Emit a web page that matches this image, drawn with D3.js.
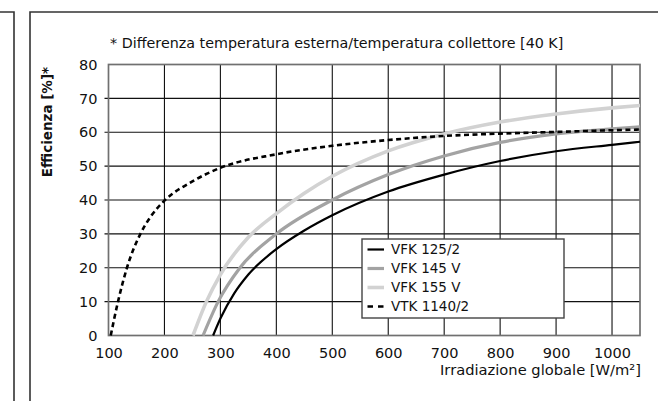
<!DOCTYPE html>
<html>
<head>
<meta charset="utf-8">
<script src="https://cdn.jsdelivr.net/npm/d3@7"></script>
<style>
	html, body { margin: 0; padding: 0; background: #fff; }
	svg { display: block; }
	text { font-family: 'DejaVu Sans', sans-serif; fill: #111; }
</style>
</head>
<body>
<svg id="chart" width="658" height="401"></svg>
<script>
(function() {
	'use strict';

	// values: [irradiance W/m2, efficiency %]
	var vfk125 = [[287, 0], [300, 5], [325, 12.5], [350, 18], [400, 25.5], [450, 31], [500, 35.5],
		[600, 42.5], [700, 47.5], [800, 51.5], [900, 54.4], [1000, 56.3], [1050, 57.2]];
	var vfk145 = [[269, 0], [296, 10], [335, 20], [400, 30], [500, 40], [600, 47.5],
		[700, 53], [800, 57], [900, 59.5], [1000, 61], [1050, 61.6]];
	var vfk155 = [[251, 0], [275, 10], [300, 18], [350, 29], [400, 36], [450, 42], [500, 47],
		[600, 54.5], [700, 59.5], [800, 63], [900, 65.4], [1000, 67.2], [1050, 67.9]];
	var vtk1140 = [[104, 0], [117, 10], [133, 20], [157, 30], [175, 35], [200, 39.8], [250, 45.5],
		[300, 49.5], [400, 53.5], [500, 56], [600, 57.7], [700, 58.9], [800, 59.6], [900, 60.1],
		[1000, 60.6], [1050, 60.8]];

	var seriesNames = ['VFK 125/2', 'VFK 145 V', 'VFK 155 V', 'VTK 1140/2'];
	var seriesData = [vfk125, vfk145, vfk155, vtk1140];
	var xTicks = [100, 200, 300, 400, 500, 600, 700, 800, 900, 1000];
	var yTicks = [0, 10, 20, 30, 40, 50, 60, 70, 80];

	var styles = [
		{stroke: '#000000', width: 2.2, dash: null},
		{stroke: '#a3a3a3', width: 3.2, dash: null},
		{stroke: '#d2d2d2', width: 3.6, dash: null},
		{stroke: '#000000', width: 2.6, dash: '5,3.5'}
	];

	var svg = d3.select('#chart');
	var x = d3.scaleLinear().domain([100, 1050]).range([108.5, 640]);
	var y = d3.scaleLinear().domain([0, 80]).range([335.5, 64.5]);

	// panel frames
	var frame = svg.append('g')
		.attr('fill', 'none')
		.attr('stroke', '#333')
		.attr('stroke-width', 1.6);
	frame.append('path').attr('d', 'M0,12H14V401');
	frame.append('path').attr('d', 'M30,401V12H658');

	// grid
	var grid = svg.append('g').attr('stroke', '#111').attr('stroke-width', 1.1);
	grid.selectAll('line.v')
		.data(xTicks.slice(1))
		.enter().append('line')
		.attr('class', 'v')
		.attr('x1', function(d) { return x(d); }).attr('x2', function(d) { return x(d); })
		.attr('y1', y(0)).attr('y2', y(80));
	grid.selectAll('line.h')
		.data(yTicks.slice(1, -1))
		.enter().append('line')
		.attr('class', 'h')
		.attr('x1', x(100) - 4).attr('x2', x(1050))
		.attr('y1', function(d) { return y(d); }).attr('y2', function(d) { return y(d); });

	svg.append('rect')
		.attr('x', x(100)).attr('y', y(80))
		.attr('width', x(1050) - x(100)).attr('height', y(0) - y(80))
		.attr('fill', 'none')
		.attr('stroke', '#707070')
		.attr('stroke-width', 1.7);

	// axes
	var xAxis = svg.append('g')
		.attr('transform', 'translate(0,' + y(0) + ')')
		.call(d3.axisBottom(x).tickValues(xTicks).tickFormat(d3.format('d')).tickSize(0).tickPadding(12));
	var yAxis = svg.append('g')
		.attr('transform', 'translate(' + x(100) + ',0)')
		.call(d3.axisLeft(y).tickValues(yTicks).tickSize(0).tickPadding(11));
	[xAxis, yAxis].forEach(function(a) {
		a.select('.domain').remove();
		a.selectAll('text')
			.style('font-family', "'DejaVu Sans', sans-serif")
			.style('font-size', '14.5px')
			.attr('fill', '#111');
	});

	// curves
	var line = d3.line()
		.x(function(d) { return x(d[0]); })
		.y(function(d) { return y(d[1]); })
		.curve(d3.curveMonotoneX);

	svg.append('g').selectAll('path')
		.data(seriesData)
		.enter().append('path')
		.attr('d', line)
		.attr('fill', 'none')
		.attr('stroke', function(d, i) { return styles[i].stroke; })
		.attr('stroke-width', function(d, i) { return styles[i].width; })
		.attr('stroke-dasharray', function(d, i) { return styles[i].dash; });

	// legend
	var legend = svg.append('g').attr('transform', 'translate(362,239)');
	legend.append('rect')
		.attr('width', 202).attr('height', 79)
		.attr('fill', '#fff')
		.attr('stroke', '#444')
		.attr('stroke-width', 1.4);
	var rows = legend.selectAll('g.row')
		.data(seriesNames)
		.enter().append('g')
		.attr('class', 'row')
		.attr('transform', function(d, i) { return 'translate(0,' + (10.5 + i * 19) + ')'; });
	rows.append('line')
		.attr('x1', 5.5).attr('x2', 22)
		.attr('stroke', function(d, i) { return styles[i].stroke; })
		.attr('stroke-width', function(d, i) { return styles[i].width; })
		.attr('stroke-dasharray', function(d, i) { return styles[i].dash ? '5.5,5' : null; });
	rows.append('text')
		.attr('x', 29).attr('dy', '0.35em')
		.style('font-size', '13.5px')
		.text(function(d) { return d; });

	// titles
	svg.append('text')
		.attr('x', 110).attr('y', 48)
		.style('font-size', '14.3px')
		.text('* Differenza temperatura esterna/temperatura collettore [40 K]');
	svg.append('text')
		.attr('x', 641).attr('y', 375)
		.attr('text-anchor', 'end')
		.style('font-size', '14.7px')
		.text('Irradiazione globale [W/m\u00b2]');
	svg.append('text')
		.attr('transform', 'translate(52,122) rotate(-90)')
		.attr('text-anchor', 'middle')
		.style('font-size', '13.5px')
		.style('font-weight', 'bold')
		.text('Efficienza [%]*');
})();
</script>
</body>
</html>
